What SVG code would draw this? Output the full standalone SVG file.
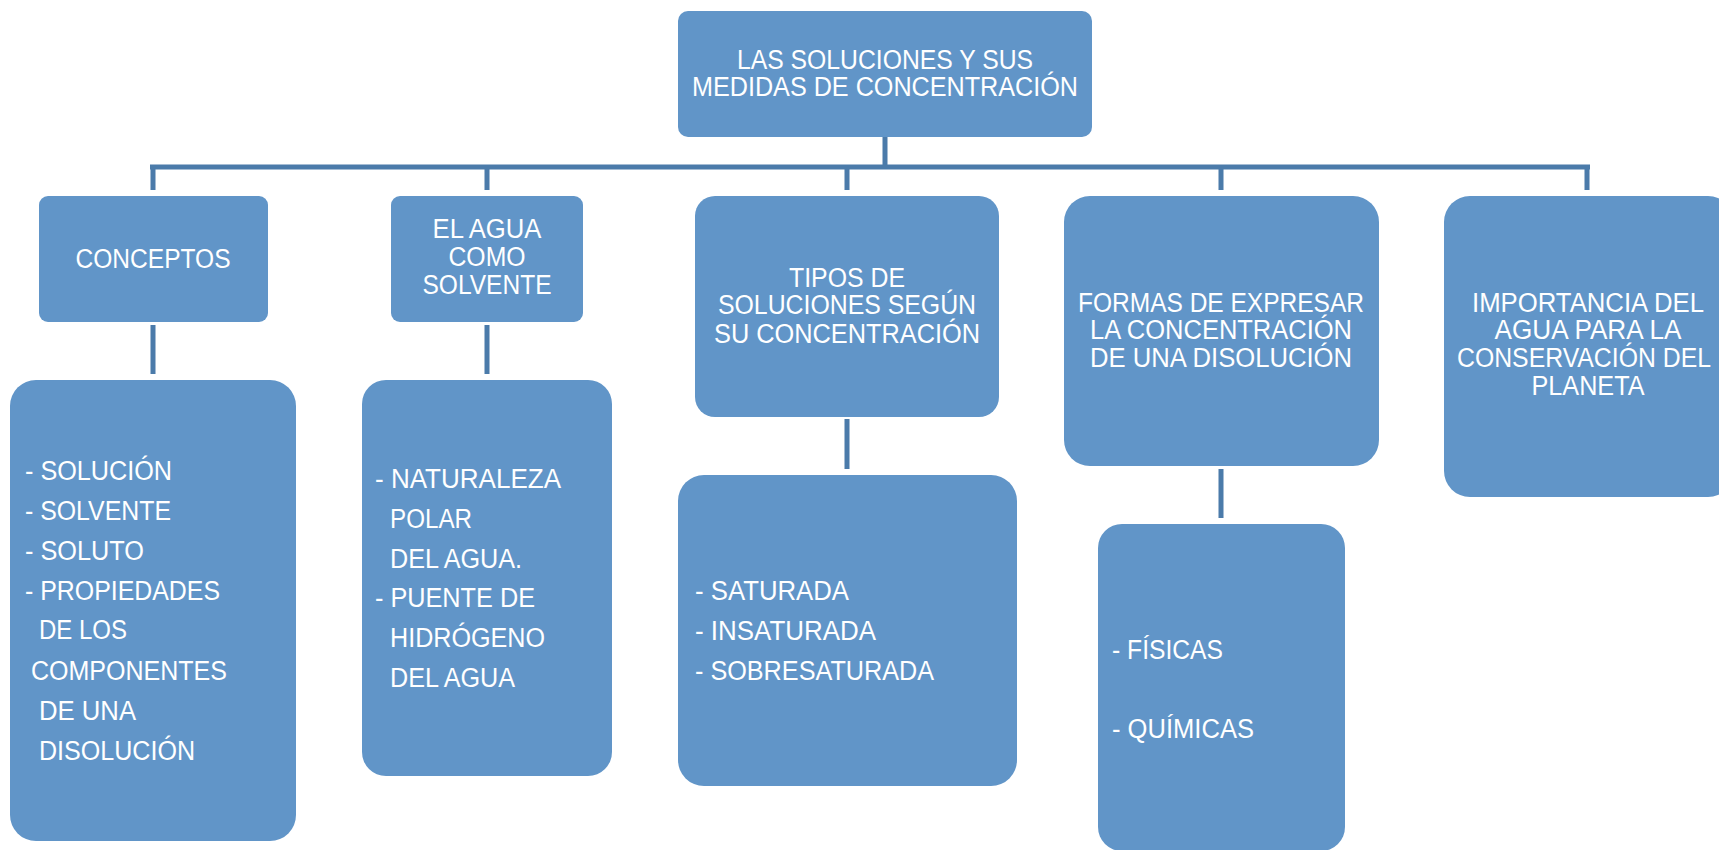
<svg xmlns="http://www.w3.org/2000/svg" width="1719" height="850" viewBox="0 0 1719 850">
<style>
.box{fill:#6195C8;}
.t{font-family:"Liberation Sans",Arial,sans-serif;font-size:27px;fill:#ffffff;}
.c{text-anchor:middle;}
.conn{stroke:#4B7BAA;stroke-width:5;fill:none;}
</style>
<rect width="1719" height="850" fill="#ffffff"/>
<g id="connectors">
<path class="conn" d="M885 137V167M150 167H1590M153 167V190M487 167V190M847 167V190M1221 167V190M1587 167V190"/>
<path class="conn" d="M153 325V374M487 325V374M847 419V469M1221 469V518"/>
</g>
<g id="root">
<rect class="box" x="678" y="11" width="414" height="126" rx="10"/>
<text class="t c" x="885" y="69" textLength="296" lengthAdjust="spacingAndGlyphs">LAS SOLUCIONES Y SUS</text>
<text class="t c" x="885" y="96" textLength="386" lengthAdjust="spacingAndGlyphs">MEDIDAS DE CONCENTRACIÓN</text>
</g>
<g id="conceptos">
<rect class="box" x="39" y="196" width="229" height="126" rx="9"/>
<text class="t c" x="153" y="268" textLength="155" lengthAdjust="spacingAndGlyphs">CONCEPTOS</text>
</g>
<g id="agua">
<rect class="box" x="391" y="196" width="192" height="126" rx="9"/>
<text class="t c" x="487" y="238" textLength="109" lengthAdjust="spacingAndGlyphs">EL AGUA</text>
<text class="t c" x="487" y="266" textLength="77" lengthAdjust="spacingAndGlyphs">COMO</text>
<text class="t c" x="487" y="294" textLength="129" lengthAdjust="spacingAndGlyphs">SOLVENTE</text>
</g>
<g id="tipos">
<rect class="box" x="695" y="196" width="304" height="221" rx="20"/>
<text class="t c" x="847" y="287" textLength="116" lengthAdjust="spacingAndGlyphs">TIPOS DE</text>
<text class="t c" x="847" y="314" textLength="258" lengthAdjust="spacingAndGlyphs">SOLUCIONES SEGÚN</text>
<text class="t c" x="847" y="343" textLength="266" lengthAdjust="spacingAndGlyphs">SU CONCENTRACIÓN</text>
</g>
<g id="formas">
<rect class="box" x="1064" y="196" width="315" height="270" rx="26"/>
<text class="t c" x="1221" y="312" textLength="286" lengthAdjust="spacingAndGlyphs">FORMAS DE EXPRESAR</text>
<text class="t c" x="1221" y="339" textLength="262" lengthAdjust="spacingAndGlyphs">LA CONCENTRACIÓN</text>
<text class="t c" x="1221" y="367" textLength="262" lengthAdjust="spacingAndGlyphs">DE UNA DISOLUCIÓN</text>
</g>
<g id="importancia">
<rect class="box" x="1444" y="196" width="290" height="301" rx="26"/>
<text class="t c" x="1588" y="312" textLength="232" lengthAdjust="spacingAndGlyphs">IMPORTANCIA DEL</text>
<text class="t c" x="1588" y="339" textLength="187" lengthAdjust="spacingAndGlyphs">AGUA PARA LA</text>
<text class="t c" x="1584" y="367" textLength="254" lengthAdjust="spacingAndGlyphs">CONSERVACIÓN DEL</text>
<text class="t c" x="1588" y="395" textLength="113" lengthAdjust="spacingAndGlyphs">PLANETA</text>
</g>
<g id="conceptos-detalle">
<rect class="box" x="10" y="380" width="286" height="461" rx="26"/>
<text class="t" x="25" y="480" textLength="147" lengthAdjust="spacingAndGlyphs">- SOLUCIÓN</text>
<text class="t" x="25" y="520" textLength="146" lengthAdjust="spacingAndGlyphs">- SOLVENTE</text>
<text class="t" x="25" y="560" textLength="119" lengthAdjust="spacingAndGlyphs">- SOLUTO</text>
<text class="t" x="25" y="600" textLength="195" lengthAdjust="spacingAndGlyphs">- PROPIEDADES</text>
<text class="t" x="39" y="639" textLength="88" lengthAdjust="spacingAndGlyphs">DE LOS</text>
<text class="t" x="31" y="680" textLength="196" lengthAdjust="spacingAndGlyphs">COMPONENTES</text>
<text class="t" x="39" y="720" textLength="97" lengthAdjust="spacingAndGlyphs">DE UNA</text>
<text class="t" x="39" y="760" textLength="156" lengthAdjust="spacingAndGlyphs">DISOLUCIÓN</text>
</g>
<g id="agua-detalle">
<rect class="box" x="362" y="380" width="250" height="396" rx="24"/>
<text class="t" x="375" y="488" textLength="186" lengthAdjust="spacingAndGlyphs">- NATURALEZA</text>
<text class="t" x="390" y="528" textLength="82" lengthAdjust="spacingAndGlyphs">POLAR</text>
<text class="t" x="390" y="568" textLength="132" lengthAdjust="spacingAndGlyphs">DEL AGUA.</text>
<text class="t" x="375" y="607" textLength="160" lengthAdjust="spacingAndGlyphs">- PUENTE DE</text>
<text class="t" x="390" y="647" textLength="155" lengthAdjust="spacingAndGlyphs">HIDRÓGENO</text>
<text class="t" x="390" y="687" textLength="125" lengthAdjust="spacingAndGlyphs">DEL AGUA</text>
</g>
<g id="tipos-detalle">
<rect class="box" x="678" y="475" width="339" height="311" rx="26"/>
<text class="t" x="695" y="600" textLength="154" lengthAdjust="spacingAndGlyphs">- SATURADA</text>
<text class="t" x="695" y="640" textLength="181" lengthAdjust="spacingAndGlyphs">- INSATURADA</text>
<text class="t" x="695" y="680" textLength="239" lengthAdjust="spacingAndGlyphs">- SOBRESATURADA</text>
</g>
<g id="formas-detalle">
<rect class="box" x="1098" y="524" width="247" height="327" rx="24"/>
<text class="t" x="1112" y="659" textLength="111" lengthAdjust="spacingAndGlyphs">- FÍSICAS</text>
<text class="t" x="1112" y="738" textLength="142" lengthAdjust="spacingAndGlyphs">- QUÍMICAS</text>
</g>
</svg>
